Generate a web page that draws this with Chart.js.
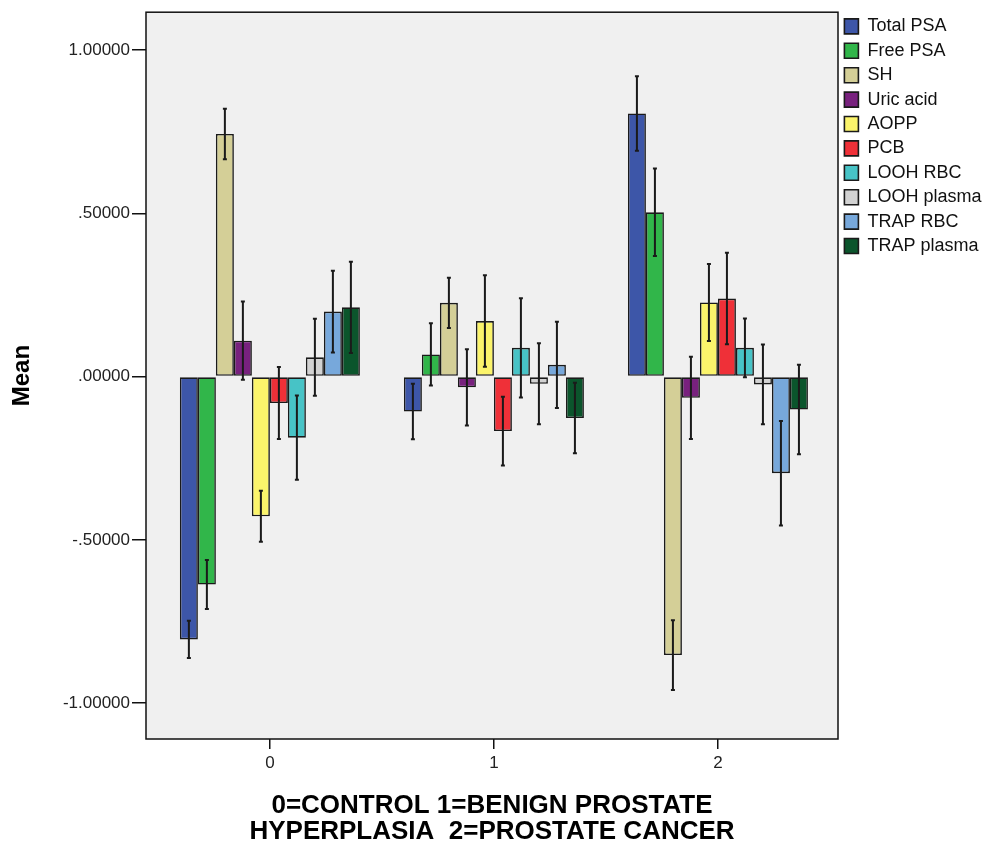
<!DOCTYPE html>
<html>
<head>
<meta charset="utf-8">
<script src="https://cdn.jsdelivr.net/npm/chart.js@4.4.1/dist/chart.umd.min.js"></script>
<style>
  html, body { margin: 0; padding: 0; background: #fff; }
  canvas { display: block; }
</style>
</head>
<body>
<canvas id="meanChart" width="990" height="847"></canvas>
<script>
// groups on the x axis
const categories = ['0', '1', '2'];
const yTicks = [-1, -0.5, 0, 0.5, 1];

// mean per group, one array per variable
const totalPSA   = [-0.805, -0.107, 0.806];
const freePSA    = [-0.637, 0.068, 0.503];
const sh         = [0.743, 0.226, -0.853];
const uricAcid   = [0.110, -0.033, -0.065];
const aopp       = [-0.428, 0.170, 0.227];
const pcb        = [-0.081, -0.167, 0.239];
const loohRBC    = [-0.187, 0.088, 0.088];
const loohPlasma = [0.059, -0.022, -0.024];
const trapRBC    = [0.199, 0.036, -0.296];
const trapPlasma = [0.212, -0.127, -0.101];

// error bar half-lengths
const totalPSAErr   = [0.057, 0.085, 0.114];
const freePSAErr    = [0.075, 0.095, 0.134];
const shErr         = [0.077, 0.077, 0.107];
const uricAcidErr   = [0.120, 0.117, 0.126];
const aoppErr       = [0.078, 0.140, 0.118];
const pcbErr        = [0.110, 0.105, 0.140];
const loohRBCErr    = [0.129, 0.152, 0.090];
const loohPlasmaErr = [0.118, 0.124, 0.122];
const trapRBCErr    = [0.125, 0.132, 0.160];
const trapPlasmaErr = [0.140, 0.108, 0.137];

const FONT = '"Liberation Sans", Arial, sans-serif';

const series = [
  ['Total PSA', totalPSA, totalPSAErr, '#3d56a8'],
  ['Free PSA', freePSA, freePSAErr, '#31b64a'],
  ['SH', sh, shErr, '#d4cf97'],
  ['Uric acid', uricAcid, uricAcidErr, '#78217e'],
  ['AOPP', aopp, aoppErr, '#fbf46b'],
  ['PCB', pcb, pcbErr, '#ef3038'],
  ['LOOH RBC', loohRBC, loohRBCErr, '#47c3c6'],
  ['LOOH plasma', loohPlasma, loohPlasmaErr, '#d2d2d2'],
  ['TRAP RBC', trapRBC, trapRBCErr, '#77a8db'],
  ['TRAP plasma', trapPlasma, trapPlasmaErr, '#0b552c']
];

const datasets = series.map(function(s) {
  return {
    label: s[0],
    data: s[1].map(function(v, i) { return { x: i, y: v }; }),
    errors: s[2],
    backgroundColor: s[3],
    borderColor: '#1a1a1a',
    borderWidth: 1.6,
    borderSkipped: false,
    categoryPercentage: 0.8036,
    barPercentage: 1.0
  };
});

function fmt(v) {
  return Number(v).toFixed(5).replace(/^(-?)0\./, '$1.');
}

// plot background and frame
const framePlugin = {
  id: 'frame',
  beforeDraw(chart) {
    const a = chart.chartArea, ctx = chart.ctx;
    ctx.save();
    ctx.fillStyle = '#f0f0f0';
    ctx.fillRect(a.left, a.top, a.right - a.left, a.bottom - a.top);
    ctx.restore();
  },
  afterDraw(chart) {
    const a = chart.chartArea, ctx = chart.ctx;
    ctx.save();
    ctx.strokeStyle = '#111';
    ctx.lineWidth = 1.5;
    ctx.strokeRect(a.left, a.top, a.right - a.left, a.bottom - a.top);
    ctx.restore();
  }
};

// error bars drawn from each dataset's errors array
const errorBarPlugin = {
  id: 'errorBars',
  afterDatasetsDraw(chart) {
    const ctx = chart.ctx, yScale = chart.scales.y;
    ctx.save();
    ctx.strokeStyle = '#1a1a1a';
    ctx.lineWidth = 2;
    chart.data.datasets.forEach(function(ds, i) {
      const meta = chart.getDatasetMeta(i);
      meta.data.forEach(function(bar, j) {
        const v = ds.data[j].y, e = ds.errors[j];
        const yTop = yScale.getPixelForValue(v + e);
        const yBot = yScale.getPixelForValue(v - e);
        ctx.beginPath();
        ctx.moveTo(bar.x, yTop);
        ctx.lineTo(bar.x, yBot);
        ctx.moveTo(bar.x - 2, yTop);
        ctx.lineTo(bar.x + 2, yTop);
        ctx.moveTo(bar.x - 2, yBot);
        ctx.lineTo(bar.x + 2, yBot);
        ctx.stroke();
      });
    });
    ctx.restore();
  }
};

// keep the legend column a fixed width so the plot ends where it should
const legendWidthPlugin = {
  id: 'legendWidth',
  beforeLayout(chart) {
    const lg = chart.legend;
    if (lg && !lg._fixed) {
      const fit = lg.fit;
      lg.fit = function() { fit.call(this); this.width = 152; };
      lg._fixed = true;
    }
  }
};

const canvas = document.getElementById('meanChart');
const ctx = canvas.getContext('2d');

new Chart(ctx, {
  type: 'bar',
  data: { datasets: datasets },
  options: {
    responsive: false,
    animation: false,
    layout: { padding: { top: 11, right: 0, bottom: 0, left: 0 } },
    plugins: {
      legend: {
        position: 'right',
        align: 'start',
        labels: {
          boxWidth: 14,
          boxHeight: 15,
          padding: 6.4,
          color: '#111',
          font: { family: FONT, size: 18 }
        }
      },
      tooltip: { enabled: false }
    },
    scales: {
      x: {
        type: 'linear',
        min: -0.553,
        max: 2.536,
        offset: false,
        afterBuildTicks(scale) {
          scale.ticks = categories.map(function(c, i) { return { value: i }; });
        },
        afterFit(scale) { scale.height = 108; },
        ticks: {
          padding: 4,
          color: '#222',
          font: { family: FONT, size: 17 },
          callback: function(v) { return categories[v]; }
        },
        grid: {
          offset: false,
          drawOnChartArea: false,
          drawTicks: true,
          tickLength: 10,
          color: '#111',
          lineWidth: 1.5
        },
        border: { display: false },
        title: {
          display: true,
          text: ['0=CONTROL 1=BENIGN PROSTATE', 'HYPERPLASIA  2=PROSTATE CANCER'],
          color: '#000',
          font: { family: FONT, size: 26, weight: 'bold', lineHeight: 1.0 },
          padding: { top: 0, bottom: 2 }
        }
      },
      y: {
        min: -1.11,
        max: 1.116,
        afterBuildTicks(scale) {
          scale.ticks = yTicks.map(function(v) { return { value: v }; });
        },
        afterFit(scale) { scale.width = 146; },
        ticks: {
          padding: 2,
          color: '#222',
          font: { family: FONT, size: 17 },
          callback: function(v) { return fmt(v); }
        },
        grid: {
          drawOnChartArea: false,
          drawTicks: true,
          tickLength: 14,
          color: '#111',
          lineWidth: 1.5
        },
        border: { display: false },
        title: {
          display: true,
          text: 'Mean',
          color: '#000',
          font: { family: FONT, size: 24, weight: 'bold' },
          padding: { top: 8, bottom: 0 }
        }
      }
    }
  },
  plugins: [framePlugin, errorBarPlugin, legendWidthPlugin]
});
</script>
</body>
</html>
